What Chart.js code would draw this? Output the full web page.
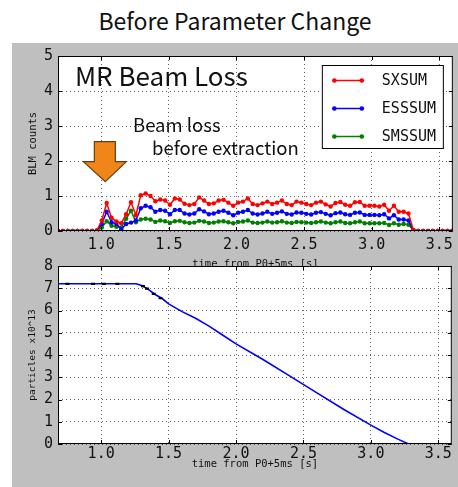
<!DOCTYPE html>
<html>
<head>
<meta charset="utf-8">
<script src="https://cdn.jsdelivr.net/npm/chart.js@4"></script>
<style>
  body { margin: 0; background: #fff; }
  #page { position: relative; width: 458px; height: 487px; overflow: hidden; background: #fff; }
  #panel { position: absolute; left: 12px; top: 43px; width: 446px; height: 444px; background: #bfbfbf; }
  #title { position: absolute; left: 0; top: 3px; width: 470px; text-align: center;
           font: 23px "Noto Sans CJK JP", "Noto Sans", sans-serif; color: #111; }
  canvas { position: absolute; left: 0; }
  #lossChart { top: 0; }
  #beamChart { top: 250px; }
</style>
</head>
<body>
<div id="page">
  <div id="panel"></div>
  <div id="title">Before Parameter Change</div>
  <canvas id="lossChart" width="458" height="272"></canvas>
  <canvas id="beamChart" width="458" height="237"></canvas>
</div>
<script>
// time axis of the BLM samples [s]
const lossTime = [
  0.680, 0.716, 0.752, 0.788, 0.824, 0.860, 0.896, 0.932, 0.968, 1.004,
  1.040, 1.076, 1.112, 1.148, 1.184, 1.220, 1.256, 1.292, 1.328, 1.364,
  1.400, 1.436, 1.472, 1.508, 1.544, 1.580, 1.616, 1.652, 1.688, 1.724,
  1.760, 1.796, 1.832, 1.868, 1.904, 1.940, 1.976, 2.012, 2.048, 2.084,
  2.120, 2.156, 2.192, 2.228, 2.264, 2.300, 2.336, 2.372, 2.408, 2.444,
  2.480, 2.516, 2.552, 2.588, 2.624, 2.660, 2.696, 2.732, 2.768, 2.804,
  2.840, 2.876, 2.912, 2.948, 2.984, 3.020, 3.056, 3.092, 3.128, 3.164,
  3.200, 3.236, 3.272, 3.308, 3.344, 3.380, 3.416, 3.452, 3.488, 3.524,
  3.560, 3.596
];
const sxsum = [
  0, 0, 0, 0, 0, 0, 0, 0, 0.02, 0.3,
  0.8, 0.38, 0.27, 0.22, 0.48, 0.82, 0.45, 1.02, 1.07, 1.0,
  0.85, 0.9, 0.87, 0.75, 0.93, 0.9, 0.78, 0.74, 0.77, 0.96,
  0.87, 0.77, 0.79, 0.87, 0.89, 0.81, 0.72, 0.81, 0.84, 0.93,
  0.77, 0.74, 0.79, 0.84, 0.77, 0.81, 0.87, 0.77, 0.74, 0.84,
  0.81, 0.77, 0.74, 0.81, 0.84, 0.76, 0.7, 0.8, 0.83, 0.75,
  0.72, 0.82, 0.83, 0.72, 0.72, 0.72, 0.7, 0.75, 0.58, 0.72,
  0.55, 0.55, 0.5, 0.03, 0, 0, 0, 0, 0, 0,
  0, 0
];
const esssum = [
  0, 0, 0, 0, 0, 0, 0, 0, 0.01, 0.2,
  0.55, 0.25, 0.2, 0.05, 0.2, 0.24, 0.3, 0.65, 0.72, 0.68,
  0.55, 0.6, 0.58, 0.48, 0.6, 0.6, 0.5, 0.47, 0.5, 0.62,
  0.56, 0.48, 0.5, 0.55, 0.58, 0.52, 0.45, 0.52, 0.55, 0.6,
  0.5, 0.47, 0.5, 0.55, 0.49, 0.52, 0.56, 0.49, 0.47, 0.53,
  0.52, 0.49, 0.47, 0.52, 0.54, 0.49, 0.45, 0.51, 0.53, 0.48,
  0.46, 0.52, 0.53, 0.46, 0.46, 0.46, 0.45, 0.48, 0.36, 0.45,
  0.33, 0.33, 0.3, 0.02, 0, 0, 0, 0, 0, 0,
  0, 0
];
const smssum = [
  0, 0, 0, 0, 0, 0, 0, 0, 0.01, 0.1,
  0.28, 0.15, 0.12, 0.1, 0.35, 0.58, 0.25, 0.33, 0.35, 0.33,
  0.26, 0.3, 0.28, 0.23, 0.28, 0.29, 0.25, 0.23, 0.24, 0.29,
  0.27, 0.23, 0.24, 0.27, 0.28, 0.25, 0.22, 0.26, 0.27, 0.3,
  0.24, 0.23, 0.24, 0.27, 0.24, 0.25, 0.28, 0.24, 0.23, 0.26,
  0.25, 0.24, 0.23, 0.25, 0.27, 0.24, 0.22, 0.25, 0.27, 0.23,
  0.22, 0.25, 0.27, 0.22, 0.22, 0.22, 0.22, 0.23, 0.17, 0.22,
  0.18, 0.2, 0.18, 0.02, 0, 0, 0, 0, 0, 0,
  0, 0
];

// circulating beam intensity (x10^13)
const beamTime = [0.68, 1.0, 1.26, 1.3, 1.35, 1.4, 1.45, 1.5, 1.6, 1.7, 1.8, 1.9, 2.0, 2.2, 2.4, 2.6, 2.8, 3.0, 3.1, 3.2, 3.28];
const particles = [7.2, 7.2, 7.2, 7.12, 6.95, 6.72, 6.55, 6.3, 5.95, 5.65, 5.3, 4.9, 4.5, 3.8, 3.05, 2.3, 1.55, 0.85, 0.52, 0.22, 0.0];
const markTime = [0.75, 0.94, 1.02, 1.12, 1.31, 1.34, 1.39, 1.44];
const markVal = [7.2, 7.2, 7.2, 7.2, 7.1, 6.98, 6.75, 6.55];

const xTicks = [1.0, 1.5, 2.0, 2.5, 3.0, 3.5];
const lossTicks = [0, 1, 2, 3, 4, 5];
const beamTicks = [0, 1, 2, 3, 4, 5, 6, 7, 8];

const MONO = "'DejaVu Sans Mono', monospace";
const SANS = "'Noto Sans CJK JP', 'Noto Sans', sans-serif";

function pairs(xs, ys) {
  return xs.map((x, i) => ({ x: x, y: ys[i] }));
}

// white plot area, black frame and matplotlib style inward ticks
const framePlugin = {
  id: 'frame',
  beforeDraw(chart) {
    const a = chart.chartArea;
    const ctx = chart.ctx;
    ctx.save();
    ctx.fillStyle = '#fff';
    ctx.fillRect(a.left, a.top, a.right - a.left, a.bottom - a.top);
    ctx.restore();
  },
  afterDraw(chart) {
    const a = chart.chartArea;
    const ctx = chart.ctx;
    ctx.save();
    ctx.strokeStyle = '#000';
    ctx.lineWidth = 1;
    ctx.strokeRect(a.left + 0.5, a.top + 0.5, a.right - a.left - 1, a.bottom - a.top - 1);
    ctx.beginPath();
    chart.scales.x.ticks.forEach((t) => {
      const px = Math.round(chart.scales.x.getPixelForValue(t.value)) + 0.5;
      ctx.moveTo(px, a.bottom); ctx.lineTo(px, a.bottom - 4);
      ctx.moveTo(px, a.top); ctx.lineTo(px, a.top + 4);
    });
    chart.scales.y.ticks.forEach((t) => {
      const py = Math.round(chart.scales.y.getPixelForValue(t.value)) + 0.5;
      ctx.moveTo(a.left, py); ctx.lineTo(a.left + 4, py);
      ctx.moveTo(a.right, py); ctx.lineTo(a.right - 4, py);
    });
    ctx.stroke();
    ctx.restore();
  }
};

// title, annotation, arrow and legend of the loss plot
const lossDecor = {
  id: 'lossDecor',
  afterDraw(chart) {
    const a = chart.chartArea;
    const ctx = chart.ctx;
    const xs = chart.scales.x;
    const ys = chart.scales.y;
    ctx.save();
    ctx.fillStyle = '#111';
    ctx.textBaseline = 'middle';
    ctx.font = '26px ' + SANS;
    ctx.fillText('MR Beam Loss', a.left + 17, a.top + 20);
    ctx.font = '18.5px ' + SANS;
    ctx.fillText('Beam loss', 133, 125);
    ctx.fillText('before extraction', 152, 148);

    // arrow pointing at the early loss peak
    const tx = xs.getPixelForValue(1.03);
    const ty = ys.getPixelForValue(1.41);
    ctx.beginPath();
    ctx.moveTo(tx, ty);
    ctx.lineTo(tx + 21, ty - 20);
    ctx.lineTo(tx + 10, ty - 20);
    ctx.lineTo(tx + 10, ty - 40);
    ctx.lineTo(tx - 11, ty - 40);
    ctx.lineTo(tx - 11, ty - 20);
    ctx.lineTo(tx - 22, ty - 20);
    ctx.closePath();
    ctx.fillStyle = '#f08519';
    ctx.fill();
    ctx.strokeStyle = '#6b3b10';
    ctx.lineWidth = 1.2;
    ctx.stroke();

    // legend box
    const bw = 121, bh = 83;
    const bx = a.right - 10 - bw;
    const by = a.top + 9;
    ctx.fillStyle = '#fff';
    ctx.fillRect(bx, by, bw, bh);
    ctx.strokeStyle = '#000';
    ctx.lineWidth = 1;
    ctx.strokeRect(bx + 0.5, by + 0.5, bw, bh);
    ctx.font = '15px ' + MONO;
    chart.data.datasets.forEach((ds, i) => {
      const ry = by + 15.5 + i * 28;
      ctx.strokeStyle = ds.borderColor;
      ctx.lineWidth = 1.5;
      ctx.beginPath();
      ctx.moveTo(bx + 12.5, ry);
      ctx.lineTo(bx + 40, ry);
      ctx.stroke();
      ctx.fillStyle = ds.borderColor;
      [bx + 12.5, bx + 40].forEach((px) => {
        ctx.beginPath();
        ctx.arc(px, ry, 2.3, 0, Math.PI * 2);
        ctx.fill();
      });
      ctx.fillStyle = '#111';
      ctx.fillText(ds.label, bx + 60, ry + 1);
    });
    ctx.restore();
  }
};

function xScale(height, tickPad, titlePad) {
  return {
    type: 'linear',
    min: 0.68,
    max: 3.6,
    afterBuildTicks: (s) => { s.ticks = xTicks.map((v) => ({ value: v })); },
    afterFit: (s) => { s.height = height; },
    grid: { color: 'rgba(0,0,0,0.6)', drawTicks: false },
    border: { display: false, dash: [1, 3] },
    ticks: {
      color: '#111', padding: tickPad, maxRotation: 0, autoSkip: false,
      font: { family: MONO, size: 15 },
      callback: (v) => Number(v).toFixed(1)
    },
    title: {
      display: true, text: 'time from P0+5ms [s]', color: '#111',
      font: { family: MONO, size: 10.5 }, padding: { top: 0, bottom: titlePad }
    }
  };
}

function yScale(max, tickVals, label, labelSize) {
  return {
    min: 0,
    max: max,
    afterBuildTicks: (s) => { s.ticks = tickVals.map((v) => ({ value: v })); },
    afterFit: (s) => { s.width = 58; },
    grid: { color: 'rgba(0,0,0,0.6)', drawTicks: false },
    border: { display: false, dash: [1, 3] },
    ticks: { color: '#111', padding: 5, font: { family: MONO, size: 15 } },
    title: {
      display: true, text: label, color: '#111',
      font: { family: MONO, size: labelSize }, padding: { top: 27, bottom: 0 }
    }
  };
}

function lossSet(label, color, values) {
  return {
    label: label,
    data: pairs(lossTime, values),
    borderColor: color,
    backgroundColor: color,
    borderWidth: 1.5,
    pointRadius: 2.2,
    pointBorderWidth: 0,
    tension: 0
  };
}

new Chart(document.getElementById('lossChart'), {
  type: 'line',
  data: {
    datasets: [
      lossSet('SXSUM', '#ff0000', sxsum),
      lossSet('ESSSUM', '#0000ff', esssum),
      lossSet('SMSSUM', '#008000', smssum)
    ]
  },
  options: {
    animation: false,
    responsive: false,
    layout: { padding: { top: 56, right: 4, left: 0, bottom: 0 } },
    plugins: { legend: { display: false }, tooltip: { enabled: false } },
    scales: {
      x: xScale(41, 5, 1),
      y: yScale(5, lossTicks, 'BLM counts', 10.5)
    }
  },
  plugins: [framePlugin, lossDecor]
});

new Chart(document.getElementById('beamChart'), {
  type: 'line',
  data: {
    datasets: [
      {
        label: 'marks',
        data: pairs(markTime, markVal),
        showLine: false,
        pointStyle: 'line',
        pointRadius: 2,
        borderColor: '#000',
        pointBorderWidth: 2.2
      },
      {
        label: 'particles',
        data: pairs(beamTime, particles),
        borderColor: '#0000ff',
        borderWidth: 1.6,
        pointRadius: 0,
        tension: 0
      }
    ]
  },
  options: {
    animation: false,
    responsive: false,
    layout: { padding: { top: 16, right: 5, left: 0, bottom: 0 } },
    plugins: { legend: { display: false }, tooltip: { enabled: false } },
    scales: {
      x: xScale(43, 1, 16.5),
      y: yScale(8, beamTicks, 'particles x10^13', 9.5)
    }
  },
  plugins: [framePlugin]
});
</script>
</body>
</html>
